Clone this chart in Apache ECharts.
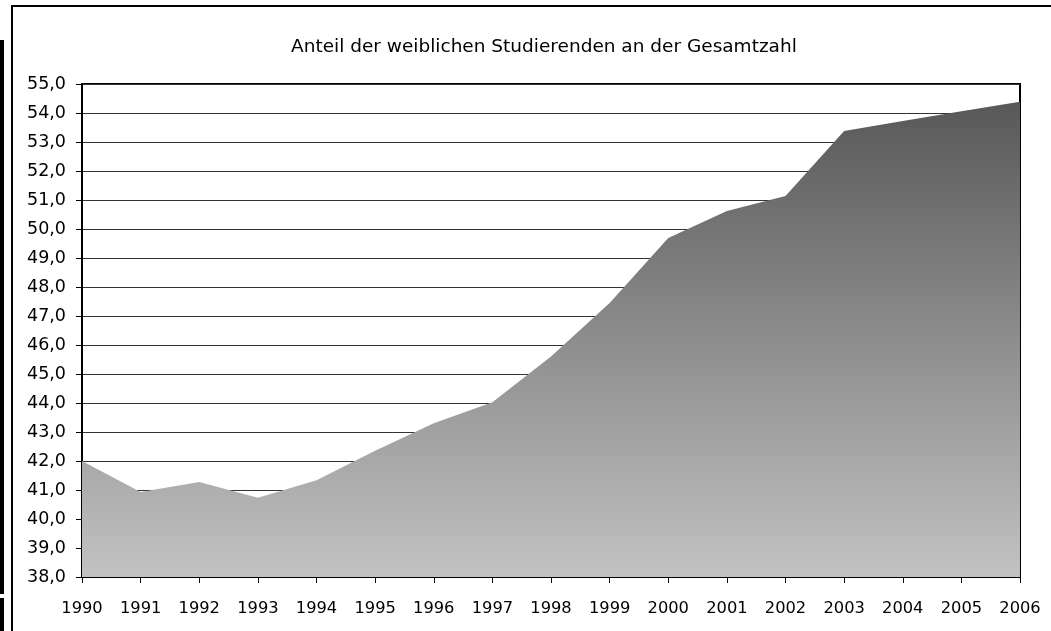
<!DOCTYPE html>
<html lang="de">
<head>
    <meta charset="UTF-8">
    <title>Anteil der weiblichen Studierenden</title>
    <script src="https://cdn.jsdelivr.net/npm/echarts@6/dist/echarts.min.js"></script>
    <style>
        html, body { margin: 0; padding: 0; background: #fff; }
        #main { width: 1051px; height: 631px; }
    </style>
</head>
<body>
    <div id="main"></div>
    <script type="text/javascript">
        const years = ['1990', '1991', '1992', '1993', '1994', '1995', '1996', '1997', '1998',
            '1999', '2000', '2001', '2002', '2003', '2004', '2005', '2006'];
        const anteil = [42.0, 40.93, 41.28, 40.73, 41.34, 42.35, 43.3, 44.03, 45.6,
            47.45, 49.69, 50.62, 51.14, 53.38, 53.72, 54.06, 54.39];

        // the original text is a horizontally stretched Arial; DejaVu Sans has about the same widths
        const FONT = '"DejaVu Sans", sans-serif';
        const chart = echarts.init(document.getElementById('main'));

        chart.setOption({
            animation: false,
            backgroundColor: '#fff',
            title: {
                text: 'Anteil der weiblichen Studierenden an der Gesamtzahl',
                left: 286,
                top: 33,
                textStyle: { fontFamily: FONT, fontSize: 18.5, fontWeight: 'normal', color: '#000' }
            },
            graphic: [
                // outer frame, runs off the right and bottom edges
                { type: 'rect', shape: { x: 12, y: 6, width: 1100, height: 700 },
                  style: { fill: 'none', stroke: '#000', lineWidth: 2 } },
                { type: 'rect', shape: { x: 0, y: 40, width: 4, height: 554 }, style: { fill: '#000' } },
                { type: 'rect', shape: { x: 0, y: 598, width: 4, height: 40 }, style: { fill: '#000' } }
            ],
            grid: {
                left: 82, right: 31, top: 84, bottom: 54,
                show: true, borderColor: '#000', borderWidth: 2
            },
            xAxis: {
                type: 'category',
                data: years,
                boundaryGap: false,
                axisLine: { lineStyle: { color: '#000', width: 2 } },
                axisTick: { length: 6, lineStyle: { color: '#000' } },
                axisLabel: { color: '#000', fontFamily: FONT, fontSize: 16.3, margin: 24, interval: 0 },
                splitLine: { show: false }
            },
            yAxis: {
                type: 'value',
                min: 38, max: 55, interval: 1,
                axisLine: { show: true, lineStyle: { color: '#000', width: 2 } },
                axisTick: { show: true, length: 6, lineStyle: { color: '#000' } },
                axisLabel: {
                    color: '#000', fontFamily: FONT, fontSize: 17.5, margin: 16,
                    formatter: v => v.toFixed(1).replace('.', ',')
                },
                splitLine: { lineStyle: { color: '#333', width: 1 } }
            },
            series: [{
                type: 'line',
                data: anteil,
                symbol: 'none',
                lineStyle: { width: 0 },
                areaStyle: {
                    opacity: 1,
                    color: new echarts.graphic.LinearGradient(0, 0, 0, 1, [
                        { offset: 0, color: '#585858' },
                        { offset: 1, color: '#c2c2c2' }
                    ])
                },
                z: 3
            }]
        });
    </script>
</body>
</html>
